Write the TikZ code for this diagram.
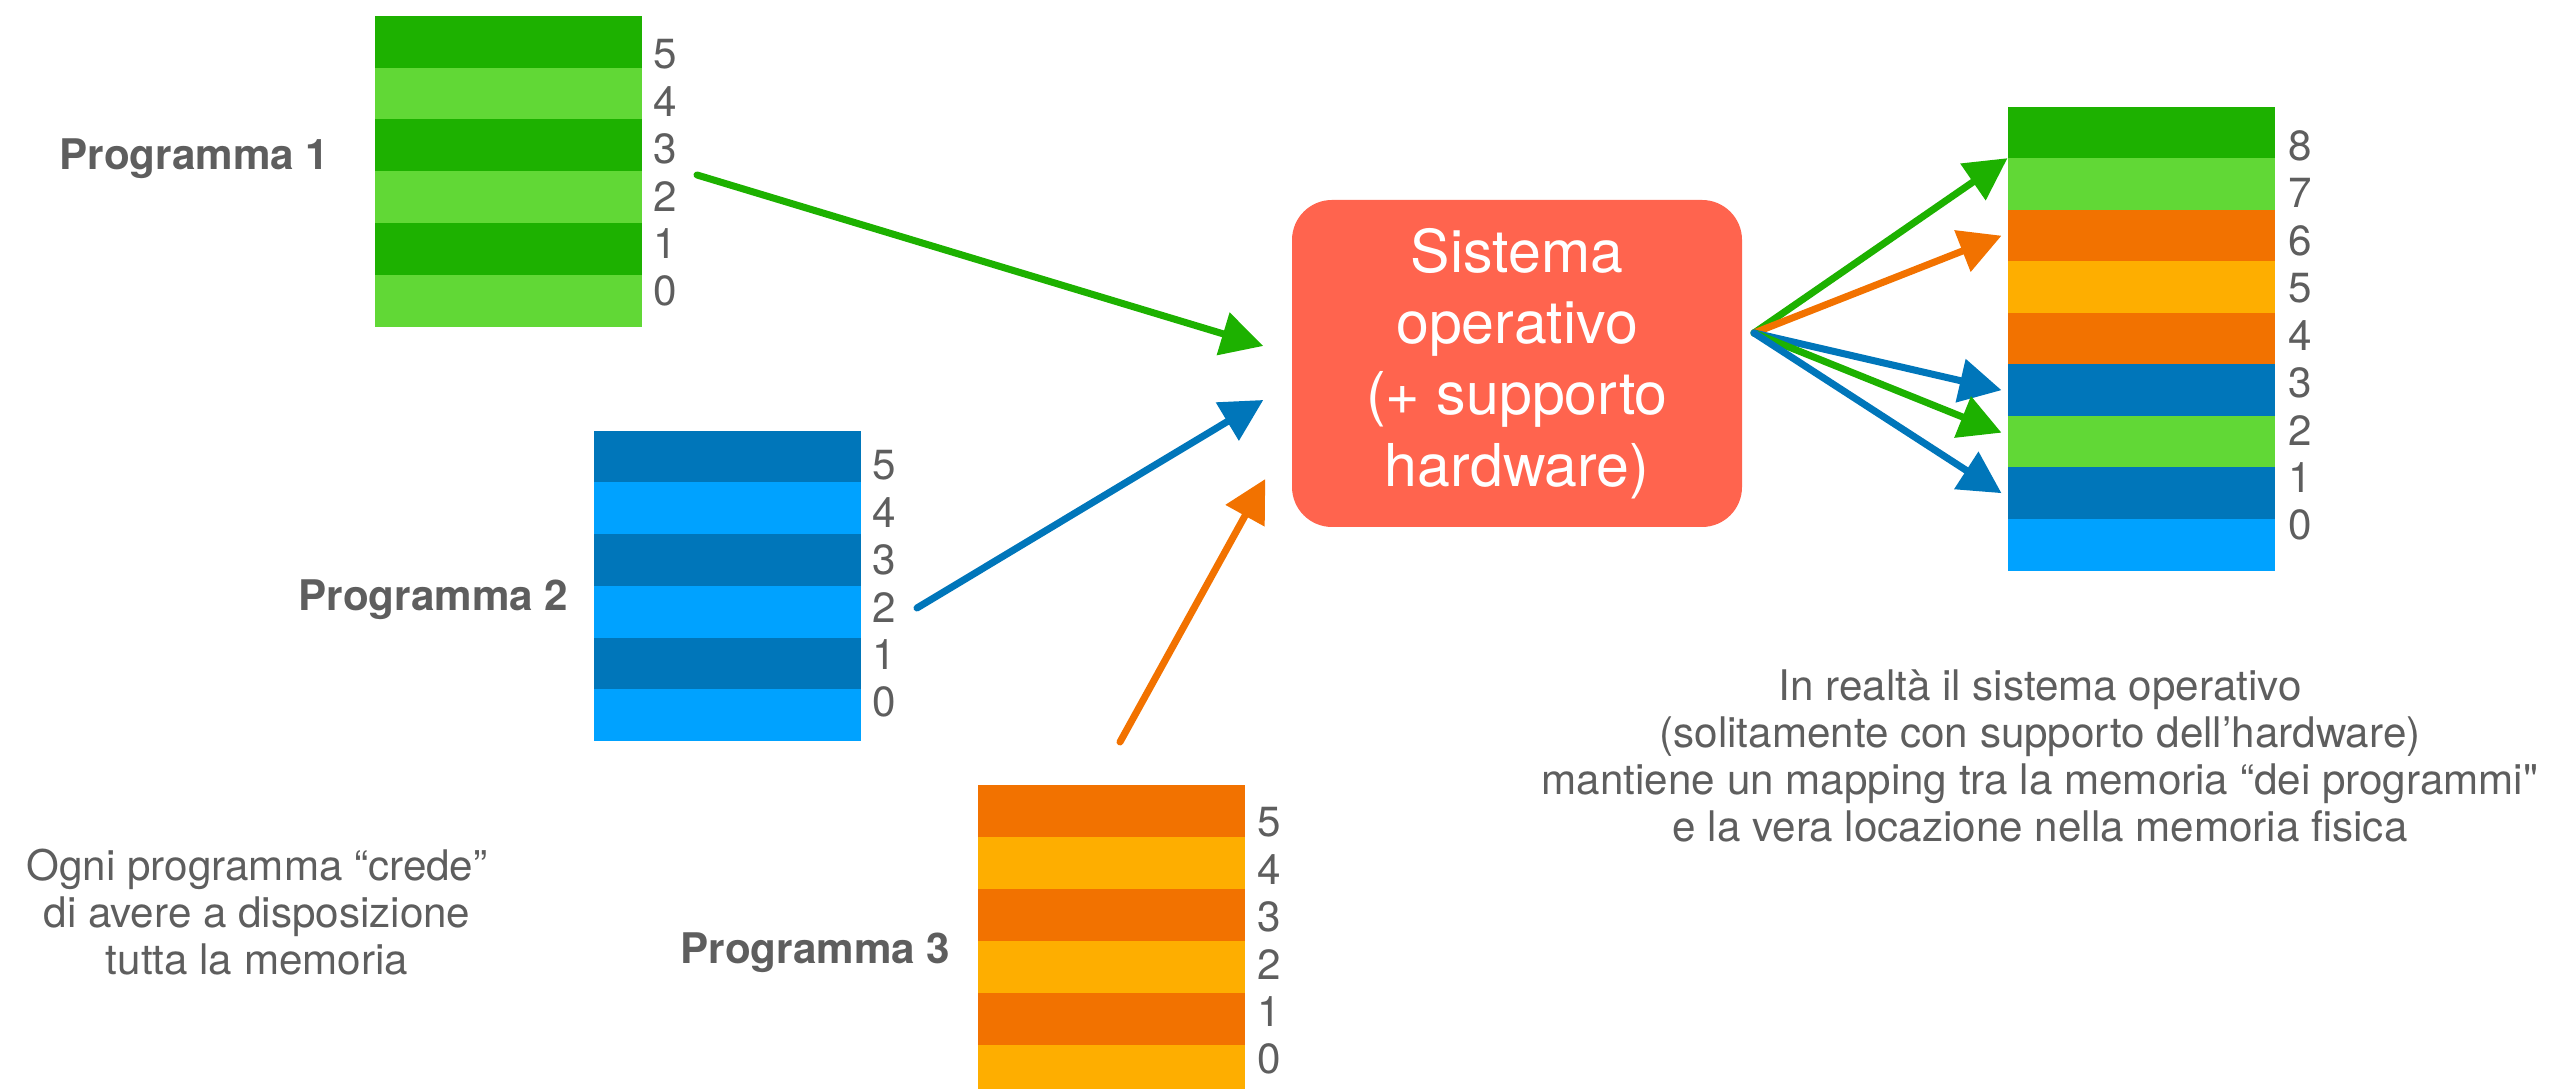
\documentclass[tikz,border=0pt]{standalone}
\usepackage{fontspec}
\setmainfont{TeX Gyre Heros}[Ligatures=TeXOff]
\usetikzlibrary{arrows.meta}

\definecolor{gdark}{HTML}{1DB100}
\definecolor{glight}{HTML}{61D836}
\definecolor{bdark}{HTML}{0076BA}
\definecolor{blight}{HTML}{00A2FF}
\definecolor{odark}{HTML}{F27200}
\definecolor{olight}{HTML}{FEAE00}
\definecolor{osred}{HTML}{FF644E}
\definecolor{txtgrey}{HTML}{5E5E5E}

\tikzset{
  cell/.style={rectangle, inner sep=0pt, outer sep=0pt, minimum width=2.67cm, minimum height=0.52cm},
  nums/.style={anchor=west, align=left, inner sep=0pt, text=txtgrey, font=\fontsize{12}{13.5}\selectfont},
  prog/.style={anchor=base east, inner sep=0pt, text=txtgrey, font=\fontsize{12}{14}\selectfont\bfseries},
  note/.style={align=center, inner sep=0pt, text=txtgrey, font=\fontsize{12}{13.4}\selectfont},
  osbox/.style={rectangle, rounded corners=0.4cm, fill=osred, text=white, align=center,
    minimum width=4.5cm, minimum height=3.27cm, font=\fontsize{16.8}{20.3}\selectfont},
  link/.style={line width=2pt, line cap=round, -{Triangle[length=0.42cm,width=0.43cm]}}
}

\begin{document}
\begin{tikzpicture}
  \useasboundingbox (0,0) rectangle (25.75,10.89);
  \clip (0,0) rectangle (25.75,10.89);

  % Programma 1
  \node[cell, fill=gdark]  (p1r5) at (5.08,10.471) {};
  \node[cell, fill=glight] (p1r4) at (5.08,9.953) {};
  \node[cell, fill=gdark]  (p1r3) at (5.08,9.435) {};
  \node[cell, fill=glight] (p1r2) at (5.08,8.917) {};
  \node[cell, fill=gdark]  (p1r1) at (5.08,8.399) {};
  \node[cell, fill=glight] (p1r0) at (5.08,7.881) {};
  \node[nums] (p1n) at (6.53,9.16) {5\\4\\3\\2\\1\\0};
  \node[prog] (lab1) at (3.30,9.19) {Programma 1};

  % Programma 2
  \node[cell, fill=bdark]  (p2r5) at (7.27,6.322) {};
  \node[cell, fill=blight] (p2r4) at (7.27,5.805) {};
  \node[cell, fill=bdark]  (p2r3) at (7.27,5.288) {};
  \node[cell, fill=blight] (p2r2) at (7.27,4.771) {};
  \node[cell, fill=bdark]  (p2r1) at (7.27,4.254) {};
  \node[cell, fill=blight] (p2r0) at (7.27,3.737) {};
  \node[nums] (p2n) at (8.72,5.05) {5\\4\\3\\2\\1\\0};
  \node[prog] (lab2) at (5.69,4.78) {Programma 2};

  % Programma 3
  \node[cell, fill=odark]  (p3r5) at (11.11,2.78) {};
  \node[cell, fill=olight] (p3r4) at (11.11,2.26) {};
  \node[cell, fill=odark]  (p3r3) at (11.11,1.74) {};
  \node[cell, fill=olight] (p3r2) at (11.11,1.22) {};
  \node[cell, fill=odark]  (p3r1) at (11.11,0.70) {};
  \node[cell, fill=olight] (p3r0) at (11.11,0.18) {};
  \node[nums] (p3n) at (12.57,1.48) {5\\4\\3\\2\\1\\0};
  \node[prog] (lab3) at (9.51,1.25) {Programma 3};

  % Memoria fisica
  \node[cell, fill=gdark]  (mem8) at (21.41,9.563) {};
  \node[cell, fill=glight] (mem7) at (21.41,9.048) {};
  \node[cell, fill=odark]  (mem6) at (21.41,8.533) {};
  \node[cell, fill=olight] (mem5) at (21.41,8.018) {};
  \node[cell, fill=odark]  (mem4) at (21.41,7.503) {};
  \node[cell, fill=bdark]  (mem3) at (21.41,6.988) {};
  \node[cell, fill=glight] (mem2) at (21.41,6.473) {};
  \node[cell, fill=bdark]  (mem1) at (21.41,5.958) {};
  \node[cell, fill=blight] (mem0) at (21.41,5.443) {};
  \node[nums] (memn) at (22.88,7.535) {8\\7\\6\\5\\4\\3\\2\\1\\0};

  % Sistema operativo
  \node[osbox] (os) at (15.17,7.255) {Sistema\\operativo\\(+ supporto\\hardware)};

  % Note
  \node[note] (note1) at (2.57,1.77) {Ogni programma “crede”\\di avere a disposizione\\tutta la memoria};
  \node[note] (note2) at (20.40,3.33) {In realtà il sistema operativo\\(solitamente con supporto dell’hardware)\\mantiene un mapping tra la memoria “dei programmi"\\e la vera locazione nella memoria fisica};

  % Frecce verso il sistema operativo
  \coordinate (s1) at (6.97,9.14);
  \coordinate (s2) at (9.17,4.81);
  \coordinate (s3) at (11.20,3.47);
  \draw[link, gdark] (s1) -- ([shift={(-0.28,0.175)}]os.west);
  \draw[link, bdark] (s2) -- ([shift={(-0.28,-0.365)}]os.west);
  \draw[link, odark] (s3) -- ([shift={(-0.26,-1.155)}]os.west);

  % Frecce verso la memoria fisica
  \coordinate (hub) at (17.54,7.56);
  \draw[link, gdark] (hub) -- (mem7.north west);
  \draw[link, odark] (hub) -- ([xshift=-0.06cm]mem6.west);
  \draw[link, bdark] (hub) -- ([xshift=-0.06cm]mem3.west);
  \draw[link, gdark] (hub) -- ([shift={(-0.06,0.09)}]mem2.west);
  \draw[link, bdark] (hub) -- ([xshift=-0.06cm]mem1.west);
\end{tikzpicture}
\end{document}
